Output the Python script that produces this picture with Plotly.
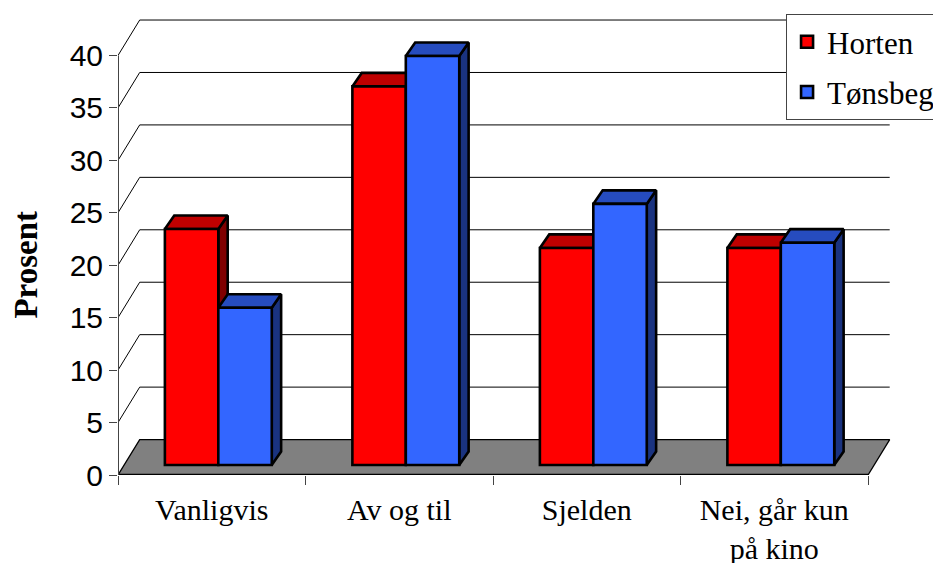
import plotly.graph_objects as go

categories = ["Vanligvis", "Av og til", "Sjelden", "Nei, går kun<br>på kino"]
horten = [22.5, 36.1, 20.7, 20.7]
tonsberg = [15.0, 39.0, 24.9, 21.2]
y_ticks = [0, 5, 10, 15, 20, 25, 30, 35, 40]

POS = [0.5, 1.5, 2.5, 3.5]
FX, FY = 0.1157, 3.38      # floor depth (axis units)
BX, BY = 0.05, 1.29        # bar depth
BASE = 0.95                # bar base above the front floor edge
W = 0.285
RED_OFF, BLUE_OFF = -0.25, 0.035
X_MAX, Y_MAX = 4.144, 43.86
LW = 2.6
SERIF = "Liberation Serif"
SANS = "Liberation Sans"


def polys(shapes):
    xs, ys = [], []
    for s in shapes:
        xs += [p[0] for p in s] + [s[0][0], None]
        ys += [p[1] for p in s] + [s[0][1], None]
    return xs, ys


def faces(vals, off):
    top, side = [], []
    for p, v in zip(POS, vals):
        l, r, t = p + off, p + off + W, BASE + v
        top.append([(l, t), (l + BX, t + BY), (r + BX, t + BY), (r, t)])
        side.append([(r, BASE), (r + BX, BASE + BY), (r + BX, t + BY), (r, t)])
    return top, side


def poly_trace(shapes, color, xa, ya, lw=LW):
    xs, ys = polys(shapes)
    return go.Scatter(x=xs, y=ys, mode="lines", fill="toself", fillcolor=color,
                      line=dict(color="black", width=lw), xaxis=xa, yaxis=ya,
                      showlegend=False, hoverinfo="skip")


def line_trace(xs, ys, color, width):
    return go.Scatter(x=xs, y=ys, mode="lines", line=dict(color=color, width=width),
                      showlegend=False, hoverinfo="skip")


fig = go.Figure()

# floor, back-wall lines, axis lines
fig.add_trace(poly_trace([[(0, 0), (FX, FY), (4 + FX, FY), (4, 0)]], "#808080", "x", "y", 1.3))
gx, gy = [], []
for v in y_ticks[1:]:
    gx += [0, FX, 4 + FX, None]
    gy += [v, v + FY, v + FY, None]
fig.add_trace(line_trace(gx, gy, "black", 1))
fig.add_trace(line_trace([0, 4], [0, 0], "black", 2.4))
fig.add_trace(line_trace([0, 0], [0, 40], "#444444", 2))

r_top, r_side = faces(horten, RED_OFF)
b_top, b_side = faces(tonsberg, BLUE_OFF)
fig.add_trace(poly_trace(r_side, "#800000", "x", "y"))
fig.add_trace(poly_trace(r_top, "#BF0000", "x", "y"))

fig.add_trace(go.Bar(x=POS, y=horten, base=BASE, width=W, offset=RED_OFF, name="Horten",
                     marker=dict(color="#FF0000", line=dict(color="black", width=LW)),
                     xaxis="x2", yaxis="y2", legendgroup="a", hoverinfo="skip"))
fig.add_trace(poly_trace(b_side, "#1A3380", "x2", "y2"))
fig.add_trace(poly_trace(b_top, "#264CBF", "x2", "y2"))

fig.add_trace(go.Bar(x=POS, y=tonsberg, base=BASE, width=W, offset=BLUE_OFF, name="Tønsbeg",
                     marker=dict(color="#3366FF", line=dict(color="black", width=LW)),
                     xaxis="x3", yaxis="y3", legendgroup="b", hoverinfo="skip"))

hidden = dict(visible=False, fixedrange=True)
fig.update_layout(
    width=933, height=563, autosize=False,
    margin=dict(l=117.5, r=38, t=15, b=88, pad=0, autoexpand=False),
    paper_bgcolor="white", plot_bgcolor="rgba(0,0,0,0)",
    barmode="overlay",
    xaxis=dict(range=[0, X_MAX], tickvals=POS, ticktext=categories, showgrid=False, zeroline=False,
               showline=False,
               ticks="outside", ticklen=8, tickcolor="rgba(0,0,0,0)",
               tickfont=dict(family=SERIF, size=30, color="black"),
               minor=dict(tickvals=[0, 1, 2, 3, 4], ticks="outside", ticklen=9,
                          tickcolor="#444444", tickwidth=1, showgrid=False)),
    yaxis=dict(range=[0, Y_MAX], tickvals=y_ticks, showgrid=False, zeroline=False,
               showline=False,
               ticks="outside", ticklen=8, tickcolor="#444444",
               tickfont=dict(family=SANS, size=30, color="black")),
    xaxis2=dict(range=[0, X_MAX], overlaying="x", **hidden),
    yaxis2=dict(range=[0, Y_MAX], overlaying="y", **hidden),
    xaxis3=dict(range=[0, X_MAX], overlaying="x", **hidden),
    yaxis3=dict(range=[0, Y_MAX], overlaying="y", **hidden),
    legend=dict(x=0.8598, y=1.002, xanchor="left", yanchor="top",
                bgcolor="white", bordercolor="#444444", borderwidth=1,
                tracegroupgap=7, font=dict(family=SERIF, size=31, color="black"),
                itemwidth=30),
    annotations=[dict(text="<b>Prosent</b>", textangle=-90, xref="paper", yref="paper",
                      x=-0.119, y=0.4565, xanchor="center", yanchor="middle", showarrow=False,
                      font=dict(family=SERIF, size=33, color="black"))],
    showlegend=True,
)
fig.write_html("out.html", config=dict(displayModeBar=False),
               post_script="document.body.style.margin='0';")
